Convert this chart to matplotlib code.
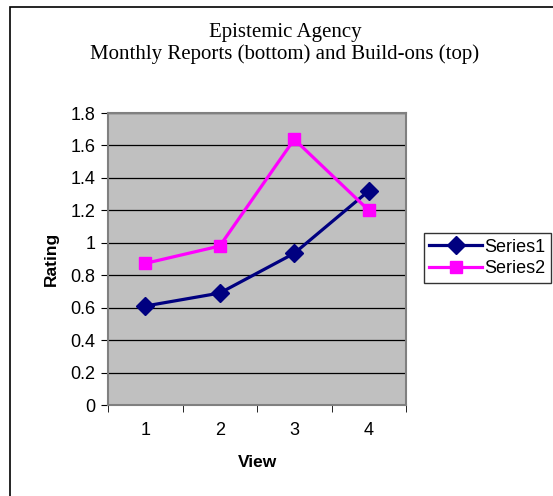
import matplotlib
matplotlib.use("Agg")
import matplotlib.pyplot as plt
from matplotlib.patches import Rectangle

categories = [1, 2, 3, 4]
series1 = [0.61, 0.69, 0.935, 1.32]
series2 = [0.873, 0.98, 1.638, 1.20]
yticks = [0, 0.2, 0.4, 0.6, 0.8, 1.0, 1.2, 1.4, 1.6, 1.8]
yticklabels = ["0", "0.2", "0.4", "0.6", "0.8", "1", "1.2", "1.4", "1.6", "1.8"]

W, H = 553, 496
fig = plt.figure(figsize=(W / 100, H / 100), dpi=100)
fig.patch.set_facecolor("white")

# outer chart frame (right and bottom edges fall outside the image)
fig.add_artist(Rectangle((10 / W, -0.1), 1.2, 1.1 - 7 / H,
                         transform=fig.transFigure, fill=False, edgecolor="black",
                         linewidth=1.2))

ax = fig.add_axes([108 / W, 1 - 405 / H, (406 - 108) / W, (405 - 113) / H])
ax.set_facecolor("#C0C0C0")
for s in ax.spines.values():
    s.set_color("#808080")
    s.set_linewidth(1.5)

ax.set_ylim(0, 1.8)
ax.set_xlim(0.5, 4.5)
ax.set_yticks(yticks)
ax.set_yticklabels(yticklabels, fontsize=13, fontfamily="Liberation Sans")
ax.yaxis.grid(True, color="black", linewidth=0.9)
ax.set_axisbelow(True)

ax.set_xticks(categories)
ax.set_xticklabels([str(c) for c in categories], fontsize=13, fontfamily="Liberation Sans")
ax.set_xticks([0.5, 1.5, 2.5, 3.5, 4.5], minor=True)
ax.tick_params(axis="x", which="major", length=0, pad=12)
ax.tick_params(axis="x", which="minor", length=5, color="black", direction="out")
ax.tick_params(axis="y", length=5, color="black", direction="out", pad=4)

ax.plot(categories, series1, color="#000080", linewidth=2.3, marker="D",
        markersize=9, label="Series1")
ax.plot(categories, series2, color="#FF00FF", linewidth=2.3, marker="s",
        markersize=9, label="Series2")

ax.set_xlabel("View", fontsize=12.5, fontweight="bold", fontfamily="Liberation Sans", labelpad=12)
ax.set_ylabel("Rating", fontsize=12.5, fontweight="bold", fontfamily="Liberation Sans", labelpad=8)

fig.text(285 / W, 1 - 32 / H, "Epistemic Agency", ha="center", va="center",
         fontsize=15, fontfamily="Liberation Serif")
fig.text(285 / W, 1 - 54 / H, "Monthly Reports (bottom) and Build-ons (top)", ha="center",
         va="center", fontsize=15, fontfamily="Liberation Serif")

leg = ax.legend(loc="center left", bbox_to_anchor=(424 / W, 1 - 258 / H),
                bbox_transform=fig.transFigure, frameon=True, fancybox=False,
                edgecolor="black", prop={"family": "Liberation Sans", "size": 13},
                handlelength=2.9, borderpad=0.3, labelspacing=0.25, handletextpad=0.15,
                borderaxespad=0)
leg.get_frame().set_linewidth(1.0)

fig.savefig("out.png", dpi=100)
